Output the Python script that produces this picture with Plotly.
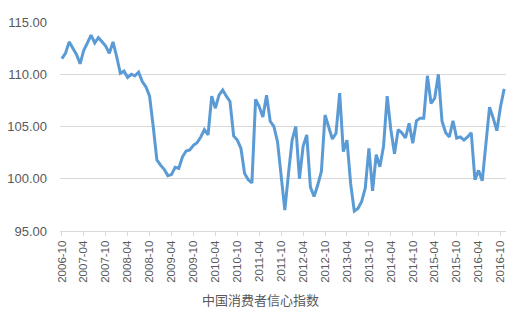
import pandas as pd
import plotly.graph_objects as go

months = [p.strftime("%Y-%m") for p in pd.period_range("2006-10", "2016-11", freq="M")]

values = [
    111.5, 112.0, 113.1, 112.5, 111.9, 111.0, 112.3, 113.0, 113.75, 113.0,
    113.5, 113.1, 112.7, 112.0, 113.1, 111.7, 110.1, 110.3, 109.7, 110.0,
    109.85, 110.2, 109.3, 108.8, 107.9, 105.0, 101.8, 101.3, 100.9, 100.3,
    100.4, 101.1, 101.0, 102.1, 102.65, 102.75, 103.2, 103.45, 104.0, 104.7,
    104.2, 107.9, 106.75, 108.0, 108.5, 107.9, 107.4, 104.1, 103.7, 102.9,
    100.5, 99.9, 99.6, 107.6, 106.9, 105.9, 108.0, 105.5, 105.0, 103.55,
    100.5, 97.0, 100.5, 103.7, 105.0, 100.0, 103.1, 104.2, 99.2, 98.3,
    99.4, 100.7, 106.1, 105.0, 103.8, 104.35, 108.2, 102.6, 103.7, 99.55,
    96.9, 97.15, 97.8, 99.1, 102.9, 98.85, 102.3, 101.15, 103.1, 107.9,
    104.7, 102.4, 104.7, 104.4, 103.9, 105.3, 103.4, 105.55, 105.8, 105.8,
    109.85, 107.2, 107.7, 110.0, 105.5, 104.4, 104.0, 105.55, 103.9, 104.0,
    103.7, 104.0, 104.4, 99.9, 100.8, 99.8, 103.4, 106.85, 105.8, 104.6,
    106.9, 108.6,
]

tick_labels = months[::6]
y_ticks = [95, 100, 105, 110, 115]
title_text = "中国消费者信心指数"

fig = go.Figure()
fig.add_trace(go.Scatter(
    x=months, y=values, mode="lines",
    line=dict(color="#5B9BD5", width=3),
    hoverinfo="skip",
))

fig.update_layout(
    width=518, height=319,
    margin=dict(l=60, r=12, t=22, b=88),
    paper_bgcolor="white", plot_bgcolor="white",
    showlegend=False,
    font=dict(family="Liberation Sans, Arial", color="#595959", size=11),
    xaxis=dict(
        type="category",
        categoryorder="array", categoryarray=months,
        range=[-0.5, len(months) - 0.5],
        tickmode="array", tickvals=tick_labels, ticktext=tick_labels,
        tickangle=-90,
        showgrid=False,
        showline=True, linecolor="#D9D9D9", linewidth=1,
        ticks="outside", ticklen=4, tickcolor="#D9D9D9",
        tickfont=dict(size=11.5, color="#595959"),
        automargin=False,
    ),
    yaxis=dict(
        range=[95, 115],
        tickvals=y_ticks,
        ticktext=[f"{v:.2f}" for v in y_ticks],
        showgrid=True, gridcolor="#D9D9D9", gridwidth=1,
        zeroline=False, showline=False,
        ticks="", ticklabelstandoff=12,
        tickfont=dict(size=13, color="#595959"),
        automargin=False,
    ),
    annotations=[dict(
        text=title_text, x=0.45, y=-0.33, xref="paper", yref="paper",
        xanchor="center", yanchor="middle", showarrow=False,
        font=dict(family="Noto Sans CJK SC", size=13, color="#595959"),
    )],
)

fig.write_html("out.html")
